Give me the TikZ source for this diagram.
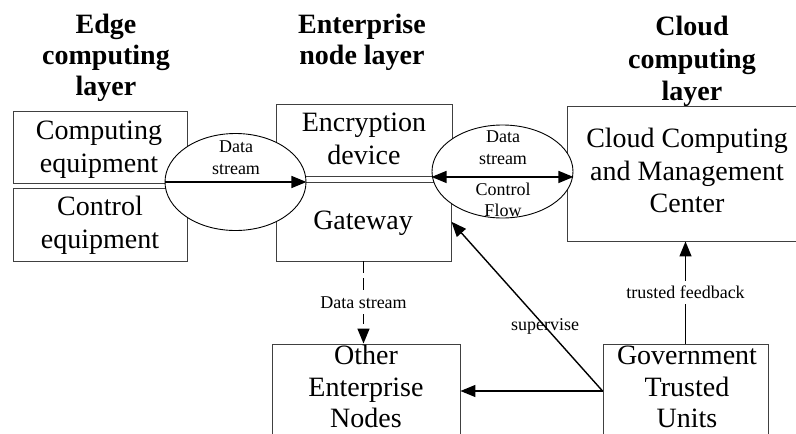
\documentclass[tikz,border=0pt]{standalone}
\usepackage{fontspec}
\setmainfont{Liberation Serif}
\usetikzlibrary{arrows.meta,calc,shapes.geometric}

\begin{document}
\begin{tikzpicture}[x=1pt,y=-1pt,
  box/.style={draw=black!75, line width=0.9pt, rectangle, inner sep=0pt},
  bigtxt/.style={font=\fontsize{28}{32.5}\selectfont, align=center, inner sep=0pt, anchor=north},
  tighttxt/.style={bigtxt, font=\fontsize{28}{31.5}\selectfont},
  headtxt/.style={font=\fontsize{28}{31}\selectfont\bfseries, align=center, inner sep=0pt, anchor=north},
  smalltxt/.style={font=\fontsize{18}{21.5}\selectfont, align=center, inner sep=0pt},
  bubble/.style={draw=black, line width=0.9pt, ellipse, fill=white, inner sep=0pt},
  bigtri/.tip={Triangle[length=15pt,width=12pt]},
  flow/.style={line width=1.4pt, -{bigtri}},
]
\useasboundingbox (0,0) rectangle (796,434);
\clip (0,0) rectangle (796,434);

% layer headings
\node[headtxt] (hEdge) at (106,14) {Edge\\computing\\layer};
\node[headtxt] (hEnt) at (362,14) {Enterprise\\node layer};
\node[headtxt, font=\fontsize{28}{32.5}\selectfont\bfseries] (hCloud) at (692,16) {Cloud\\computing\\layer};

% boxes
\node[box, minimum width=174pt, minimum height=72pt] (comp) at (100,147) {};
\node[box, minimum width=174pt, minimum height=73pt] (ctrl) at (100,224.5) {};
\node[box, minimum width=176pt, minimum height=72.5pt] (enc) at (364,140.25) {};
\node[box, minimum width=175pt, minimum height=78.5pt] (gate) at (363.5,221.75) {};
\node[box, minimum width=240pt, minimum height=135pt] (cloud) at (687,173.5) {};
\node[box, minimum width=188pt, minimum height=101pt] (other) at (366,394.5) {};
\node[box, minimum width=165pt, minimum height=101pt] (gov) at (685.5,394.5) {};

% box texts
\node[bigtxt] (compT) at (99,121) {Computing\\equipment};
\node[bigtxt] (ctrlT) at (100,196) {Control\\equipment};
\node[bigtxt] (encT) at (364,113) {Encryption\\device};
\node[bigtxt] (gateT) at (363,211) {Gateway};
\node[bigtxt] (cloudT) at (687,128) {Cloud Computing\\and Management\\Center};
\node[tighttxt] (otherT) at (366,345) {Other\\Enterprise\\Nodes};
\node[tighttxt] (govT) at (687,346) {Government\\Trusted\\Units};

% channel bubbles
\node[bubble, minimum width=141pt, minimum height=97pt] (dsA) at (235.5,182) {};
\node[bubble, minimum width=141pt, minimum height=93pt] (dsB) at (502.5,171.5) {};
\node[smalltxt, anchor=north] (dsAT) at (236,140.7) {Data\\stream};
\node[smalltxt, anchor=north] (dsBT1) at (503,130.7) {Data\\stream};
\node[smalltxt, anchor=north] (dsBT2) at (503,182.7) {Control\\Flow};

% connectors
\draw[flow] (dsA.west) -- (dsA.east);
\draw[line width=1.4pt, {bigtri}-{bigtri}] (dsB.west |- enc.south) -- (dsB.east |- enc.south);

\draw[flow, dash pattern=on 12pt off 5pt] (gate.south) -- (gate.south |- other.north)
  node[pos=0.5, smalltxt, fill=white, inner xsep=1pt, inner ysep=6pt] (dsC) {Data stream};

\coordinate (govport) at ($(gov.west)+(0,-3.5)$);
\draw[flow] (govport) -- (govport -| other.east);
\draw[flow] (govport) -- (gate.east)
  node[pos=0.38, smalltxt] (supT) {supervise};
\draw[flow] (gov.north) -- (gov.north |- cloud.south)
  node[pos=0.5, smalltxt, fill=white, inner xsep=1pt, inner ysep=5pt] (tfT) {trusted feedback};
\end{tikzpicture}
\end{document}
